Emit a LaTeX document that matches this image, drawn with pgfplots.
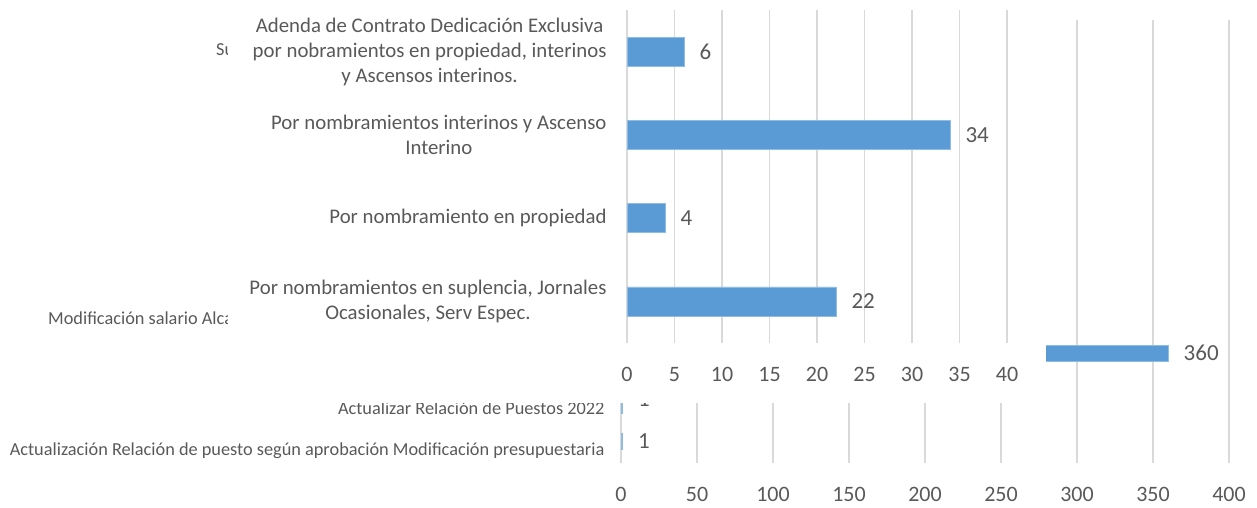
\documentclass[border=0pt]{standalone}
\usepackage{pgfplots}
\pgfplotsset{compat=1.18}
\usepackage{fontspec}
\setmainfont{Carlito}
\definecolor{barblue}{HTML}{5B9BD5}
\definecolor{barline}{HTML}{8FBCE6}
\definecolor{txt}{HTML}{595959}
\definecolor{gridc}{HTML}{D9D9D9}
\pgfplotsset{
  excelbar/.style={
    scale only axis,
    xbar,
    axis line style={draw=none},
    major tick length=0pt,
    xmajorgrids,
    ymajorgrids=false,
    grid style={gridc, line width=1.2pt},
    tick label style={text=txt},
    /pgf/number format/assume math mode=true,
    xticklabel style={font=\fontsize{22}{26}\selectfont, yshift=-21pt},
    nodes near coords,
    nodes near coords style={font=\fontsize{23}{27}\selectfont, text=txt, anchor=west, xshift=12pt},
  }
}
\begin{document}
\begin{tikzpicture}
\useasboundingbox (0pt,0pt) rectangle (1257pt,-507pt);
% background chart (0-400); y positions measured from the bottom of the plot area
\begin{axis}[excelbar,
  width=608pt, height=443pt,
  at={(621pt,-463pt)}, anchor=south west,
  bar width=16pt, bar shift=0pt,
  xmin=0, xmax=400, ymin=0, ymax=443,
  xtick={0,50,...,400},
  ytick={12,55},
  yticklabels={Actualización Relación de puesto según aprobación Modificación presupuestaria, Actualizar Relación de Puestos 2022},
  yticklabel style={font=\fontsize{18.3}{22}\selectfont, xshift=-13pt},
]
\addplot[fill=barblue, draw=barline, bar shift=0pt] coordinates {(1,21.5) (360,110)};
\addplot[fill=barblue, draw=barline, bar shift=0pt, nodes near coords style={yshift=6pt}] coordinates {(1,58)};
\end{axis}
\node[anchor=west, text=txt, font=\fontsize{18.3}{22}\selectfont, inner sep=0pt] at (48pt,-318pt) {Modificación salario Alcalde};
\node[anchor=west, text=txt, font=\fontsize{18.3}{22}\selectfont, inner sep=0pt] at (216pt,-50pt) {Su};
% overlaid chart covers part of the background chart
\fill[white] (228pt,0pt) rectangle (1046pt,-403pt);
\begin{axis}[excelbar,
  width=380pt, height=333pt,
  at={(627pt,-343pt)}, anchor=south west,
  bar width=29pt,
  xmin=0, xmax=40, ymin=-0.5, ymax=3.5,
  xtick={0,5,...,40},
  ytick={0,1,2,3},
  yticklabels={{Por nombramientos en suplencia,  Jornales\\Ocasionales, Serv Espec.},
               {Por nombramiento en propiedad},
               {Por nombramientos interinos y Ascenso\\Interino},
               {Adenda de Contrato Dedicación Exclusiva\\por nobramientos en propiedad,  interinos\\y Ascensos interinos.}},
  yticklabel style={align=center, font=\fontsize{20.8}{25}\selectfont, xshift=-17pt},
]
\addplot[fill=barblue, draw=barline] coordinates {(22,0) (4,1) (34,2) (6,3)};
\end{axis}
\end{tikzpicture}
\end{document}
